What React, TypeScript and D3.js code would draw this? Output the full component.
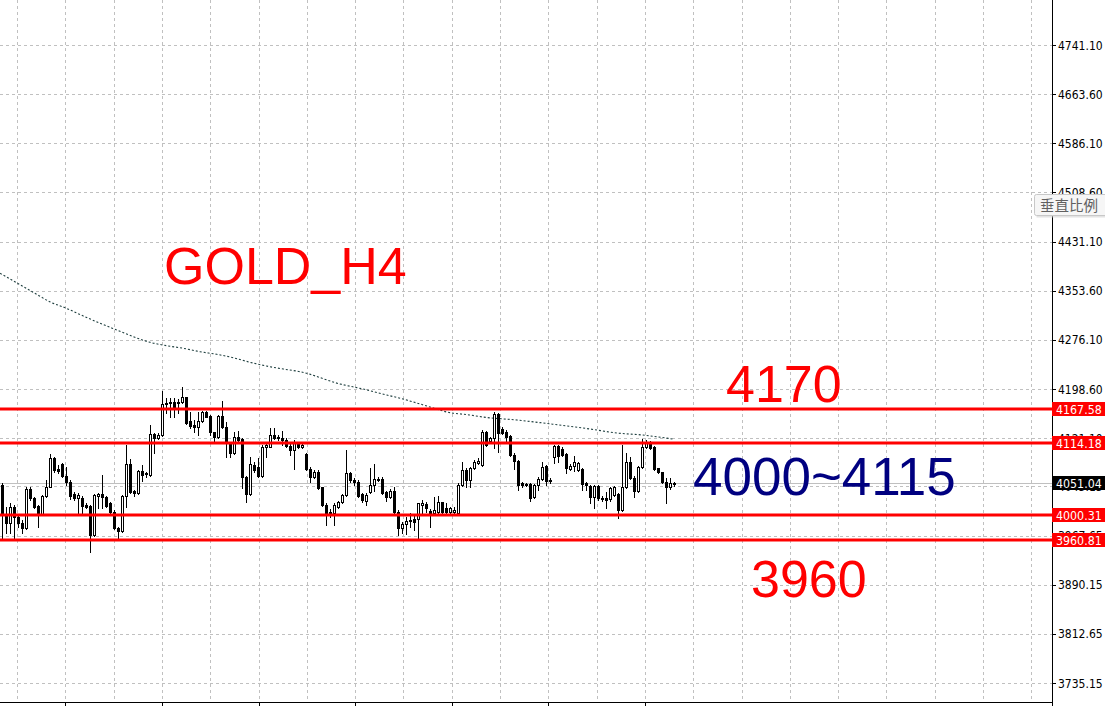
import React from "react";
import * as d3 from "d3";

// ---- price axis ticks (labels as shown on MT4 axis) ----
const priceTicks = [4818.6, 4741.1, 4663.6, 4586.1, 4508.6, 4431.1, 4353.6, 4276.1, 4198.6, 4121.1, 4045.15, 3967.65, 3890.15, 3812.65, 3735.15];

// ---- horizontal support / resistance levels ----
const levelValues = [4167.58, 4114.18, 4000.31, 3960.81];
const bidPrice = 4051.04;

// ---- H4 candles ----
const opens = [4047.3,3999.9,3986.8,4013.1,3997.3,3987.9,3978.9,4041.0,4026.2,4014.2,4001.5,4029.9,4044.6,4089.3,4072.0,4079.9,4061.5,4052.5,4033.1,4026.2,4027.3,4015.7,4014.2,3968.4,4030.4,4032.6,4028.9,4018.4,4005.2,3980.0,3975.3,4029.9,4079.9,4037.8,4034.1,4069.3,4065.7,4063.0,4127.7,4120.9,4126.1,4175.0,4176.0,4178.7,4176.0,4177.6,4185.5,4148.2,4141.9,4139.2,4148.2,4162.9,4156.1,4130.3,4123.5,4156.1,4138.2,4114.0,4097.2,4123.5,4119.3,4060.4,4033.1,4078.8,4076.2,4062.0,4107.7,4107.7,4126.1,4123.5,4121.9,4118.2,4108.8,4102.5,4111.9,4107.7,4095.6,4072.5,4060.4,4068.3,4043.6,4015.7,4005.2,4002.6,4013.1,4019.9,4031.5,4065.7,4055.1,4052.5,4032.6,4022.6,4036.8,4047.3,4056.2,4056.2,4035.7,4028.9,4037.8,4005.2,3978.9,3985.8,3990.5,3993.1,3993.7,4015.7,4016.8,4006.3,4002.6,4005.2,4019.9,4010.5,4005.2,4005.2,4002.6,4047.3,4070.9,4055.1,4073.5,4081.4,4078.8,4130.3,4117.2,4120.9,4158.7,4135.0,4131.4,4124.5,4094.6,4085.1,4049.9,4048.8,4048.8,4027.8,4047.3,4056.7,4077.2,4055.1,4091.9,4108.8,4104.0,4095.6,4072.5,4077.8,4070.9,4072.5,4049.9,4046.2,4027.8,4045.7,4027.3,4026.2,4024.7,4031.5,4032.6,4007.9,4043.6,4083.0,4058.8,4037.8,4076.2,4106.7,4114.0,4106.7,4073.5,4067.2,4052.5,4044.6,4049.5];
const closes = [4002.6,3986.8,4013.1,3997.3,3986.8,3978.9,4041.0,4026.2,4013.1,4001.5,4029.9,4044.6,4089.3,4070.9,4069.9,4061.5,4052.5,4029.9,4026.2,4031.5,4014.7,4013.1,3968.4,4031.5,4032.6,4028.9,4014.7,4005.2,3978.9,3975.3,4029.9,4079.9,4036.8,4034.1,4069.3,4063.0,4064.1,4127.7,4120.9,4126.1,4175.0,4177.1,4178.7,4166.6,4178.1,4185.5,4145.6,4140.3,4139.2,4148.2,4162.9,4155.0,4130.3,4123.5,4156.1,4138.2,4114.0,4097.2,4123.5,4118.2,4060.4,4033.1,4079.9,4070.9,4062.0,4107.7,4110.3,4126.1,4120.9,4120.9,4118.2,4109.3,4102.5,4115.6,4107.7,4110.3,4072.0,4060.4,4068.3,4042.0,4015.7,4002.6,4002.6,4015.7,4019.9,4031.5,4065.7,4055.1,4052.5,4029.9,4023.6,4031.5,4047.3,4056.2,4057.3,4035.2,4028.9,4037.8,4005.2,3978.9,3985.8,3991.0,3992.1,3989.5,4018.4,4018.4,4010.5,4002.6,4007.9,4019.9,4005.2,4005.2,4010.5,4007.9,4047.3,4070.9,4055.1,4073.5,4083.0,4085.6,4130.3,4110.3,4120.9,4159.2,4129.8,4129.8,4123.5,4094.6,4085.6,4047.3,4047.3,4047.3,4027.3,4047.3,4056.7,4076.2,4053.6,4053.6,4108.8,4093.5,4094.6,4073.5,4077.2,4083.0,4081.4,4048.3,4047.3,4027.8,4045.7,4026.2,4024.7,4023.6,4043.1,4043.6,4007.9,4044.6,4083.0,4057.8,4037.8,4076.2,4106.7,4114.0,4105.1,4072.5,4067.2,4051.5,4044.6,4049.9,4051.0];
const highs = [4049.9,4013.1,4018.4,4015.7,3999.9,3992.1,4043.6,4044.6,4028.9,4015.7,4031.5,4055.1,4096.2,4091.9,4078.8,4081.4,4076.2,4055.1,4036.8,4035.2,4029.9,4019.4,4015.7,4033.1,4034.1,4063.0,4029.9,4021.0,4007.9,3981.6,4031.5,4110.3,4087.7,4039.4,4070.9,4078.8,4068.3,4141.9,4129.8,4129.8,4195.5,4183.9,4183.9,4183.9,4182.4,4201.3,4186.5,4162.9,4149.8,4162.9,4164.5,4164.5,4157.6,4131.4,4157.6,4179.7,4147.1,4115.6,4131.4,4132.9,4120.9,4061.5,4090.9,4084.1,4089.3,4110.3,4115.6,4136.6,4136.6,4126.1,4132.9,4120.9,4113.0,4118.2,4114.0,4113.0,4097.2,4075.1,4070.9,4070.9,4044.6,4018.4,4008.9,4018.4,4022.6,4033.1,4102.5,4068.3,4057.8,4055.1,4035.2,4034.1,4073.5,4079.9,4060.4,4059.4,4038.3,4040.4,4043.6,4007.9,3989.5,3997.3,4003.6,3999.9,4019.4,4023.6,4021.0,4008.9,4028.9,4029.9,4021.0,4018.4,4012.0,4012.0,4049.9,4084.1,4073.5,4076.2,4086.7,4089.3,4134.0,4132.4,4123.5,4162.9,4161.3,4138.2,4134.0,4126.1,4097.2,4086.7,4051.5,4050.9,4049.9,4048.8,4059.4,4083.0,4078.8,4057.8,4110.3,4110.3,4106.7,4097.2,4079.9,4093.0,4084.1,4073.5,4052.5,4047.3,4047.3,4047.3,4029.9,4036.8,4044.6,4045.7,4034.1,4110.3,4097.2,4090.9,4061.5,4077.8,4119.8,4118.2,4117.2,4108.8,4074.6,4068.3,4057.8,4057.8,4052.5];
const lows = [3963.2,3971.1,3972.1,3963.2,3981.6,3971.1,3977.4,4023.6,4010.5,3981.6,3999.9,4028.9,4043.6,4068.3,4065.7,4059.4,4047.3,4024.7,4023.6,4001.5,4001.5,4010.5,3942.1,3967.4,4010.5,4010.5,4013.1,4003.6,3977.4,3963.2,3973.7,4013.1,4035.2,4029.9,4033.1,4054.1,4059.4,4061.5,4098.3,4119.3,4124.5,4160.3,4155.0,4154.0,4161.3,4176.0,4143.5,4136.6,4131.4,4126.1,4146.6,4154.0,4126.1,4116.6,4121.9,4136.6,4090.9,4091.9,4095.6,4115.6,4042.0,4021.0,4031.5,4068.3,4060.4,4060.4,4090.9,4106.7,4119.3,4118.2,4110.3,4107.7,4094.6,4072.0,4105.1,4105.1,4070.9,4052.5,4057.8,4040.4,4014.2,3984.2,3997.3,3984.2,4011.5,4018.4,4029.9,4052.5,4047.3,4027.8,4021.0,4015.7,4035.2,4038.3,4053.6,4033.1,4022.6,4026.2,4003.6,3968.4,3971.1,3970.0,3981.6,3976.3,3963.2,4002.6,4005.2,3981.6,4001.5,4003.6,4003.6,4003.6,4003.6,4003.6,4001.5,4045.7,4044.6,4043.6,4072.0,4079.9,4077.2,4108.8,4115.6,4105.1,4099.8,4127.7,4115.6,4093.0,4072.0,4039.4,4044.6,4045.7,4022.1,4026.2,4039.4,4055.1,4047.3,4049.9,4082.5,4084.1,4093.0,4066.7,4070.9,4069.3,4069.3,4039.4,4039.4,4019.4,4010.5,4023.6,4022.6,4010.5,4022.6,4029.9,3994.7,4006.8,4042.0,4056.2,4027.8,4035.7,4074.6,4105.1,4103.5,4070.9,4065.7,4049.9,4019.4,4040.4,4045.7];

// ---- moving average (dotted), read at candle positions ----
const maIndex = [-0.4, 3.75, 7.9, 12, 16.2, 20.4, 24.6, 28.75, 32.9, 37.1, 41.2, 45.4, 49.6, 53.75, 57.9, 62.1, 66.2, 70.4, 74.6, 84.6, 90.3, 96.3, 100.3, 107.1, 111.3, 117.1, 120.3, 128.8, 135.3, 147.1, 153.8, 160.3, 167.8];
const maValue = [4381.1, 4366.1, 4351.2, 4336.3, 4325.9, 4313.8, 4302.3, 4291.7, 4281.2, 4272.3, 4267.0, 4262.9, 4257.5, 4253.4, 4248.0, 4240.8, 4234.9, 4230.2, 4226.0, 4206.6, 4198.7, 4189.2, 4182.9, 4170.3, 4162.4, 4157.7, 4154.5, 4149.8, 4145.1, 4135.6, 4129.3, 4126.1, 4119.8];

// ---- annotations ----
const noteTexts = ["GOLD_H4", "4170", "4000~4115", "3960"];
const noteColors = ["#ff0000", "#ff0000", "#000080", "#ff0000"];

const W = 1105;
const H = 706;
const AXIS_X = 1052;
const BOTTOM_Y = 702;
const axisFont = "'DejaVu Sans Condensed', Tahoma, 'Liberation Sans', sans-serif";
const bigFont = "'Liberation Sans', Arial, sans-serif";

export default function App() {
  const y = d3.scaleLinear().domain([3735.15, 4741.1]).range([683, 45]);
  const x = d3.scaleLinear().domain([0, 168]).range([1.7, 673.7]);

  const gridIdx = d3.range(22).map((k) => 3.83 + 12.075 * k);
  const tickIdx = gridIdx.filter((_, k) => k % 2 === 1 && k <= 13);

  const candles = opens.map((o, i) => ({ o, c: closes[i], h: highs[i], l: lows[i], i }));

  const maLine = d3
    .line<number>()
    .x((_, k) => x(maIndex[k]))
    .y((v) => y(v))
    .curve(d3.curveMonotoneX);

  const px = (v: number) => Math.round(v) + 0.5;

  const notePos = [
    { x: 164, y: 284, s: 52 },
    { x: 726, y: 402, s: 52 },
    { x: 693, y: 495, s: 53 },
    { x: 751, y: 597, s: 52 },
  ];

  return (
    <svg
      width={W}
      height={H}
      viewBox={`0 0 ${W} ${H}`}
      style={{ position: "absolute", left: 0, top: 0, background: "#ffffff" }}
    >
      <rect x={0} y={0} width={W} height={H} fill="#ffffff" />
      {/* grid */}
      <g stroke="#c0c0c0" strokeWidth={1} strokeDasharray="3,3" shapeRendering="crispEdges">
        {priceTicks.map((t) => (
          <line key={"h" + t} x1={0} x2={AXIS_X} y1={px(y(t))} y2={px(y(t))} />
        ))}
        {gridIdx.map((g) => (
          <line key={"v" + g} x1={px(x(g))} x2={px(x(g))} y1={0} y2={BOTTOM_Y} />
        ))}
      </g>
      {/* bid line */}
      <line x1={0} x2={AXIS_X} y1={px(y(bidPrice))} y2={px(y(bidPrice))} stroke="#c0c0c0" strokeWidth={1} shapeRendering="crispEdges" />
      {/* moving average */}
      <path d={maLine(maValue) || ""} fill="none" stroke="#1f3f3f" strokeWidth={1.1} strokeDasharray="2,2" />
      {/* candles */}
      <g shapeRendering="crispEdges">
        {candles.map((d) => {
          const cx = px(x(d.i));
          const top = y(Math.max(d.o, d.c));
          const bot = y(Math.min(d.o, d.c));
          const bull = d.c >= d.o;
          const hgt = Math.max(1, Math.round(bot) - Math.round(top));
          return (
            <g key={d.i}>
              <line x1={cx} x2={cx} y1={Math.round(y(d.h))} y2={Math.round(y(d.l)) + 1} stroke="#000" strokeWidth={1} />
              <rect
                x={cx - 1}
                y={Math.round(top) + 0.5}
                width={2}
                height={hgt}
                fill={bull ? "#ffffff" : "#000000"}
                stroke="#000"
                strokeWidth={1}
              />
            </g>
          );
        })}
      </g>
      {/* horizontal levels */}
      {levelValues.map((v) => (
        <line key={"l" + v} x1={0} x2={AXIS_X} y1={Math.round(y(v))} y2={Math.round(y(v))} stroke="#ff0000" strokeWidth={3} />
      ))}
      {/* annotations */}
      {noteTexts.map((t, k) => (
        <text key={t} x={notePos[k].x} y={notePos[k].y} fill={noteColors[k]} fontFamily={bigFont} fontSize={notePos[k].s}>
          {t}
        </text>
      ))}
      {/* right axis panel */}
      <rect x={AXIS_X} y={0} width={W - AXIS_X} height={H} fill="#ffffff" />
      <line x1={AXIS_X + 0.5} x2={AXIS_X + 0.5} y1={0} y2={H} stroke="#000" strokeWidth={1} shapeRendering="crispEdges" />
      <line x1={0} x2={AXIS_X} y1={BOTTOM_Y + 0.5} y2={BOTTOM_Y + 0.5} stroke="#000" strokeWidth={1} shapeRendering="crispEdges" />
      {tickIdx.map((g) => (
        <line key={"bt" + g} x1={px(x(g))} x2={px(x(g))} y1={BOTTOM_Y} y2={H} stroke="#000" strokeWidth={1} shapeRendering="crispEdges" />
      ))}
      {priceTicks.map((t) => (
        <g key={"t" + t}>
          <line x1={AXIS_X} x2={AXIS_X + 4} y1={px(y(t))} y2={px(y(t))} stroke="#000" shapeRendering="crispEdges" />
          <text x={1058} y={y(t) + 4.5} fontFamily={axisFont} fontSize={12} fill="#000">
            {t.toFixed(2)}
          </text>
        </g>
      ))}
      {/* price label boxes */}
      {[...levelValues.map((v) => ({ v, fill: "#ff0000" })), { v: bidPrice, fill: "#000000" }].map((b) => {
        const cy = Math.round(y(b.v));
        return (
          <g key={"b" + b.v}>
            <rect x={AXIS_X} y={cy - 7} width={W - AXIS_X} height={14} fill={b.fill} />
            <text x={1056} y={cy + 4.5} fontFamily={axisFont} fontSize={12.3} fill="#ffffff">
              {b.v.toFixed(2)}
            </text>
          </g>
        );
      })}
      {/* tooltip */}
      <rect x={1036.5} y={196.5} width={80} height={21} fill="#d0d0d0" opacity={0.6} />
      <rect x={1034.5} y={194.5} width={80} height={21} fill="#f6f6f6" stroke="#c8c8c8" strokeWidth={1} rx={2} />
      <text x={1040} y={210.5} fontFamily="'Noto Sans CJK TC', 'Noto Sans CJK SC', sans-serif" fontSize={14.5} fill="#606060">
        垂直比例
      </text>
    </svg>
  );
}
